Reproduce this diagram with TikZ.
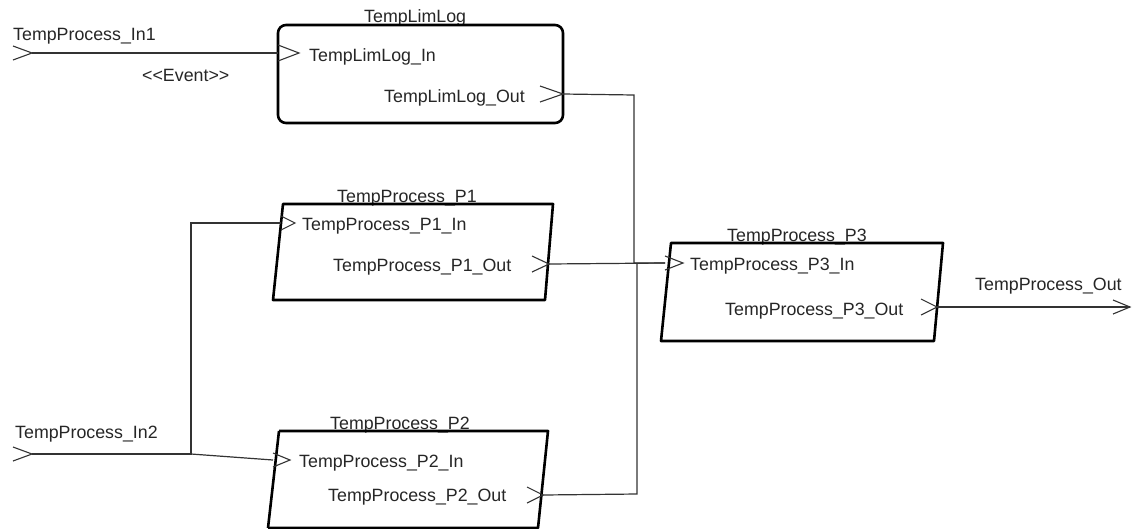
\documentclass[tikz,border=0pt]{standalone}
\usepackage{fontspec}
\setmainfont{Liberation Sans}
\begin{document}
\begin{tikzpicture}[x=1pt,y=-1pt,
  lbl/.style={font=\fontsize{17.8}{20}\selectfont, inner sep=0pt, anchor=base west, text=black!85},
  conn/.style={draw=black!80, line width=1.2pt},
  boxline/.style={draw=black, line width=2.6pt, line join=round},
  chev/.style={draw=black!80, line width=1.1pt}]
\useasboundingbox (0,0) rectangle (1142,528);
\fill[white] (0,0) rectangle (1142,528);

% ---- labels (titles first, so box borders cover their underscores)
\node[lbl] (ttll) at (364,22) {TempLimLog};
\node[lbl] (tp1) at (337,202) {TempProcess\_P1};
\node[lbl] (tp3) at (727,241) {TempProcess\_P3};
\node[lbl] (tp2) at (330,429) {TempProcess\_P2};

% ---- boxes
\draw[boxline, rounded corners=8pt] (278,25) rectangle (563,123);
\draw[boxline] (283,204) -- (553,204) -- (545,300) -- (273,300) -- cycle;
\draw[boxline] (671,243) -- (943,243) -- (934,341) -- (661,341) -- cycle;
\draw[boxline] (279,431) -- (548,431) -- (538,528) -- (268,528);
\draw[boxline] (279,431) -- (268,528);

% ---- port coordinates
\coordinate (in1) at (32,53);
\coordinate (tllin) at (278,53);
\coordinate (tllout) at (563,94);
\coordinate (p1in) at (281,223);
\coordinate (p1out) at (549,264);
\coordinate (p2in) at (273,460);
\coordinate (p2out) at (543,495);
\coordinate (p3in) at (665,263);
\coordinate (p3out) at (937,307);
\coordinate (outp) at (1130,307);
\coordinate (in2) at (32,454);
\coordinate (j2) at (191,454);
\coordinate (j2u) at (191,223);
\coordinate (ja) at (634,95);
\coordinate (jb) at (634,263);
\coordinate (jc) at (637,494);
\coordinate (jd) at (637,263);

% ---- chevrons (ports)
\draw[chev] (13,46) -- (in1) -- (13,60);
\draw[chev] (tllin) ++(0,-8) -- ++(21,8) -- ++(-21,8);
\draw[chev] (tllout) ++(-23,-8) -- (tllout) -- ++(-23,8);
\draw[chev] (p1in) ++(0,-7) -- ++(14,7) -- ++(-14,7);
\draw[chev] (p1out) ++(-17,-8) -- (p1out) -- ++(-17,8);
\draw[chev] (p2in) ++(0,-7) -- ++(17,7) -- ++(-17,7);
\draw[chev] (p2out) ++(-16,-8) -- (p2out) -- ++(-16,8);
\draw[chev] (p3in) ++(0,-7) -- ++(18,7) -- ++(-18,7);
\draw[chev] (p3out) ++(-16,-8) -- (p3out) -- ++(-16,8);
\draw[chev] (outp) ++(-17,-7) -- (outp) -- ++(-17,7);
\draw[chev] (13,447) -- (in2) -- (13,461);

% ---- connectors
\draw[conn] (in1) -- (tllin);
\draw[conn] (in2) -- (j2) -- (j2u) -- (p1in);
\draw[conn] (j2) -- (p2in);
\draw[conn] (tllout) -- (ja) -- (jb) -- (p3in);
\draw[conn] (p1out) -- (p3in);
\draw[conn] (p2out) -- (jc) -- (jd);
\draw[conn] (p3out) -- (outp);

% ---- labels
\node[lbl] (tin1) at (13,40) {TempProcess\_In1};
\node[lbl] (tev) at (142,81) {{<}{<}Event{>}{>}};
\node[lbl] (ttllin) at (309,61) {TempLimLog\_In};
\node[lbl] (ttllout) at (384,102) {TempLimLog\_Out};
\node[lbl] (tp1in) at (302,230) {TempProcess\_P1\_In};
\node[lbl] (tp1out) at (333,271) {TempProcess\_P1\_Out};
\node[lbl] (tp3in) at (690,270) {TempProcess\_P3\_In};
\node[lbl] (tp3out) at (725,315) {TempProcess\_P3\_Out};
\node[lbl] (tout) at (975,290) {TempProcess\_Out};
\node[lbl] (tin2) at (15,438) {TempProcess\_In2};
\node[lbl] (tp2in) at (299,467) {TempProcess\_P2\_In};
\node[lbl] (tp2out) at (328,501) {TempProcess\_P2\_Out};
\end{tikzpicture}
\end{document}
